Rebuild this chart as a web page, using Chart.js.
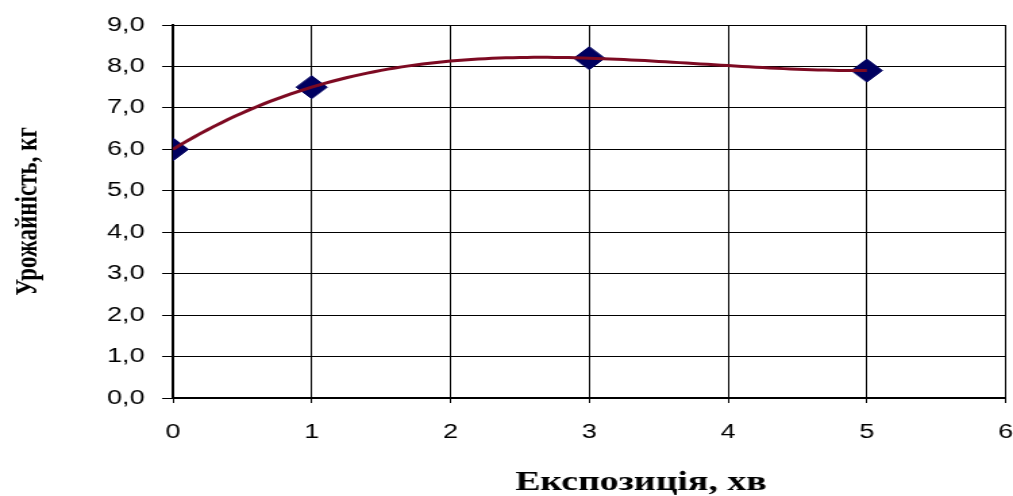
<!DOCTYPE html>
<html lang="uk">
<head>
<meta charset="utf-8">
<title>Урожайність залежно від експозиції</title>
<script src="https://cdn.jsdelivr.net/npm/chart.js@4/dist/chart.umd.min.js"></script>
<style>
  html, body { margin: 0; padding: 0; background: #ffffff; overflow: hidden; width: 1013px; height: 496px; }
  /* the chart is laid out on a narrower canvas and widened horizontally */
  #chart {
    position: absolute; left: 0; top: 0;
    transform: scaleX(1.35067);
    transform-origin: 0 0;
  }
</style>
</head>
<body>
<canvas id="chart" width="757" height="496" style="width:757px;height:496px"></canvas>
<script>
// Експозиція, хв
const exposure = [0, 1, 3, 5];
// Урожайність, кг
const yieldKg = [6.0, 7.5, 8.2, 7.9];
// axis tick labels
const xTickLabels = ['0', '1', '2', '3', '4', '5', '6'];
const yTickLabels = ['0,0', '1,0', '2,0', '3,0', '4,0', '5,0', '6,0', '7,0', '8,0', '9,0'];
const xTitle = 'Експозиція, хв';
const yTitle = 'Урожайність, кг';

// polynomial trendline (least squares, degree 3) fitted to the measured points
function polyFit(xs, ys, degree) {
  const n = degree + 1;
  const A = [];
  for (let r = 0; r < n; r++) {
    const row = [];
    for (let c = 0; c < n; c++) {
      let s = 0;
      for (let k = 0; k < xs.length; k++) s += Math.pow(xs[k], r + c);
      row.push(s);
    }
    let b = 0;
    for (let k = 0; k < xs.length; k++) b += ys[k] * Math.pow(xs[k], r);
    row.push(b);
    A.push(row);
  }
  for (let i = 0; i < n; i++) {
    let p = i;
    for (let j = i + 1; j < n; j++) if (Math.abs(A[j][i]) > Math.abs(A[p][i])) p = j;
    [A[i], A[p]] = [A[p], A[i]];
    for (let j = 0; j < n; j++) {
      if (j === i) continue;
      const f = A[j][i] / A[i][i];
      for (let c = i; c <= n; c++) A[j][c] -= f * A[i][c];
    }
  }
  return A.map((row, i) => row[n] / row[i]);
}

const coef = polyFit(exposure, yieldKg, 3);
const trendPoints = [];
const x0 = Math.min(...exposure), x1 = Math.max(...exposure);
for (let i = 0; i <= 100; i++) {
  const x = x0 + (x1 - x0) * i / 100;
  const y = coef.reduce((acc, c, p) => acc + c * Math.pow(x, p), 0);
  trendPoints.push({ x, y });
}

// horizontal axis title, placed under the plot
const xTitlePlugin = {
  id: 'xTitle',
  afterDraw(chart) {
    const ctx = chart.ctx;
    ctx.save();
    ctx.font = 'bold 28px "Liberation Serif", "Times New Roman", serif';
    ctx.fillStyle = '#000000';
    ctx.textAlign = 'center';
    ctx.textBaseline = 'alphabetic';
    ctx.fillText(xTitle, 474.5, 490);
    ctx.restore();
  }
};

new Chart(document.getElementById('chart'), {
  type: 'scatter',
  data: {
    datasets: [
      {
        label: 'Поліноміальна (урожайність)',
        data: trendPoints,
        showLine: true,
        borderColor: '#7d0a22',
        borderWidth: 3,
        pointRadius: 0,
        tension: 0,
        order: 0
      },
      {
        label: 'Урожайність',
        data: exposure.map((x, i) => ({ x, y: yieldKg[i] })),
        showLine: false,
        pointStyle: 'rectRot',
        pointRadius: 11.5,
        backgroundColor: '#000060',
        borderColor: '#000060',
        borderWidth: 1,
        order: 1
      }
    ]
  },
  options: {
    responsive: false,
    animation: false,
    devicePixelRatio: 1,
    events: [],
    layout: { padding: { top: 25, right: 0, left: 0, bottom: 0 } },
    plugins: { legend: { display: false }, tooltip: { enabled: false } },
    scales: {
      x: {
        type: 'linear',
        min: 0, max: 6,
        afterFit(scale) {
          scale.height = 98;
          scale.paddingLeft = 0;
          scale.paddingRight = 0;
        },
        ticks: {
          stepSize: 1,
          padding: 17,
          color: '#000000',
          font: { family: '"Liberation Sans", Arial, sans-serif', size: 20 },
          callback: (v) => xTickLabels[Math.round(v)]
        },
        grid: { color: '#000000', lineWidth: 1, tickLength: 5 },
        border: { color: '#000000', width: 2 }
      },
      y: {
        type: 'linear',
        min: 0, max: 9,
        afterFit(scale) { scale.width = 128; },
        ticks: {
          stepSize: 1,
          padding: 13,
          color: '#000000',
          font: { family: '"Liberation Sans", Arial, sans-serif', size: 20 },
          callback: (v) => yTickLabels[Math.round(v)]
        },
        grid: { color: '#000000', lineWidth: 1, tickLength: 8 },
        border: { color: '#000000', width: 2 },
        title: {
          display: true,
          text: yTitle,
          color: '#000000',
          padding: { top: 7, bottom: 0 },
          font: { family: '"Liberation Serif", "Times New Roman", serif', size: 23, weight: 'bold' }
        }
      }
    }
  },
  plugins: [xTitlePlugin]
});
</script>
</body>
</html>
